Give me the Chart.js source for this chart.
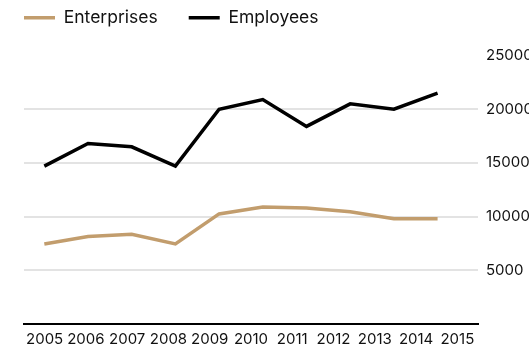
<!DOCTYPE html>
<html>
<head>
<meta charset="utf-8">
<script src="https://cdn.jsdelivr.net/npm/chart.js@4"></script>
<style>
  html, body { margin: 0; padding: 0; background: #fff; overflow: hidden; }
  #wrap { width: 529px; height: 348px; }
</style>
</head>
<body>
<div id="wrap"><canvas id="myChart"></canvas></div>
<script>
// chart data
const years = [2005, 2006, 2007, 2008, 2009, 2010, 2011, 2012, 2013, 2014];
const yearLabels = ['2005', '2006', '2007', '2008', '2009', '2010', '2011', '2012', '2013', '2014', '2015'];
const enterprises = [7450, 8150, 8350, 7450, 10250, 10900, 10800, 10450, 9800, 9800];
const employees = [14700, 16800, 16500, 14700, 20000, 20900, 18400, 20500, 20000, 21500];
const yTicks = [5000, 10000, 15000, 20000, 25000];

const tan = '#c29d6d';
const font = 'Inter, "Open Sans", sans-serif';

const toPoints = vals => vals.map((v, i) => ({ x: years[i], y: v }));

// extra room under the legend
const legendGap = {
  id: 'legendGap',
  beforeLayout(chart) {
    const lg = chart.legend;
    if (lg && !lg._gapPatched) {
      const fit = lg.fit;
      lg.fit = function () { fit.call(this); this.height += 19; };
      lg._gapPatched = true;
    }
  }
};

const ctx = document.getElementById('myChart').getContext('2d');
new Chart(ctx, {
  type: 'line',
  data: {
    datasets: [
      { label: 'Enterprises', data: toPoints(enterprises), borderColor: tan, backgroundColor: tan,
        borderWidth: 3.5, pointRadius: 0, tension: 0, xAxisID: 'x', yAxisID: 'y' },
      { label: 'Employees', data: toPoints(employees), borderColor: '#000', backgroundColor: '#000',
        borderWidth: 3.5, pointRadius: 0, tension: 0, xAxisID: 'x', yAxisID: 'y' }
    ]
  },
  options: {
    responsive: true,
    maintainAspectRatio: false,
    animation: false,
    layout: { padding: { left: -7, top: -22, right: 0, bottom: -6 } },
    plugins: {
      tooltip: { enabled: false },
      legend: {
        position: 'top',
        align: 'start',
        labels: {
          usePointStyle: true,
          pointStyle: 'line',
          pointStyleWidth: 31,
          boxHeight: 16,
          padding: 31,
          color: '#111',
          font: { family: font, size: 17.5 }
        }
      }
    },
    scales: {
      x: {
        type: 'linear',
        display: false,
        min: 2004.535,
        max: 2014.925
      },
      xl: {
        type: 'category',
        position: 'bottom',
        labels: yearLabels,
        offset: true,
        grid: { display: false, drawTicks: false },
        border: { display: true, color: '#000', width: 2 },
        ticks: { color: '#111', padding: 6, maxRotation: 0, autoSkip: false,
                 font: { family: font, size: 15 } }
      },
      pad: {
        type: 'linear',
        position: 'left',
        display: true,
        grid: { display: false },
        border: { display: false },
        ticks: { display: false },
        afterFit: s => { s.width = 31; }
      },
      y: {
        type: 'linear',
        position: 'right',
        min: 0,
        max: 25000,
        afterBuildTicks: s => { s.ticks = [0].concat(yTicks).map(v => ({ value: v })); },
        grid: {
          drawTicks: false,
          lineWidth: 2,
          color: c => (c.tick && (c.tick.value === 0 || c.tick.value === 25000)) ? 'rgba(0,0,0,0)' : '#e3e3e3'
        },
        border: { display: false },
        ticks: {
          color: '#111',
          padding: 8,
          font: { family: font, size: 15 },
          callback: v => v === 0 ? '' : String(v)
        },
        afterFit: s => { s.width = 51; }
      }
    }
  },
  plugins: [legendGap]
});
</script>
</body>
</html>
